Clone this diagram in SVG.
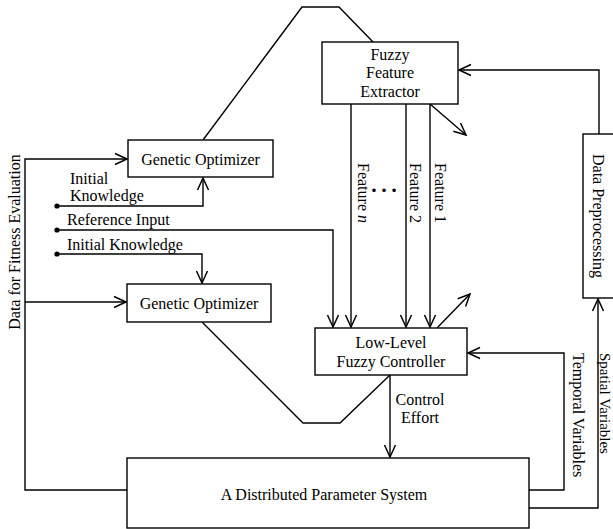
<svg xmlns="http://www.w3.org/2000/svg" width="613" height="529" viewBox="0 0 613 529">
<style>
text{font-family:"Liberation Serif","Times New Roman",serif;font-size:16px;fill:#000}
.m{text-anchor:middle}
.box{fill:#fff;stroke:#000;stroke-width:1.4}
.ln{fill:none;stroke:#000;stroke-width:1.4}
.ar{marker-end:url(#arr)}
</style>
<defs>
<marker id="arr" markerUnits="userSpaceOnUse" markerWidth="16" markerHeight="16" viewBox="-14 -8 16 16" refX="0" refY="0" orient="auto">
<path d="M-12,-5.5 L0,0 L-12,5.5" fill="none" stroke="#000" stroke-width="1.5"/>
</marker>
</defs>
<rect width="613" height="529" fill="#fff"/>
<g id="connectors">
<path class="ln" d="M203,140 L302,7 L339,7 L373,42"/>
<path class="ln ar" d="M127,490 L25,490 L25,159 L127,159"/>
<path class="ln ar" d="M25,302 L126,302"/>
<path class="ln ar" d="M57,206 L203,206 L203,178"/>
<path class="ln ar" d="M57,230 L333,230 L333,327"/>
<path class="ln ar" d="M57,254 L202,254 L202,283"/>
<path class="ln ar" d="M351,104 L351,327"/>
<path class="ln ar" d="M406,104 L406,327"/>
<path class="ln ar" d="M430,104 L430,327"/>
<path class="ln ar" d="M430,104 L466,135"/>
<path class="ln ar" d="M437,328 L470,294"/>
<path class="ln" d="M202,322 L303,423 L340,423 L390,375"/>
<path class="ln ar" d="M390,375 L390,457"/>
<path class="ln ar" d="M529,490 L564,490 L564,353 L468,353"/>
<path class="ln ar" d="M529,508 L598,508 L598,299"/>
<path class="ln ar" d="M599,134 L599,70 L459,70"/>
<circle cx="57" cy="206" r="2.6"/>
<circle cx="57" cy="230" r="2.6"/>
<circle cx="57" cy="254" r="2.6"/>
<text x="70" y="184">Initial</text>
<text x="70" y="201">Knowledge</text>
<text x="67" y="225">Reference Input</text>
<text x="67" y="250">Initial Knowledge</text>
<text class="m" x="420" y="405">Control</text>
<text class="m" x="420" y="423">Effort</text>
<text transform="translate(435,163) rotate(90)">Feature 1</text>
<text transform="translate(410,163) rotate(90)">Feature 2</text>
<text transform="translate(358,163) rotate(90)">Feature <tspan font-style="italic">n</tspan></text>
<text class="m" x="384" y="192" style="font-size:30px">…</text>
<text class="m" transform="translate(20,242) rotate(-90)">Data for Fitness Evaluation</text>
<text transform="translate(573,353) rotate(90)">Temporal Variables</text>
<text transform="translate(600,353) rotate(90)" style="font-size:15px">Spatial Variables</text>
</g>
<g id="genetic-optimizer-1">
<rect class="box" x="128" y="140" width="145" height="37"/>
<text class="m" x="200.5" y="165">Genetic Optimizer</text>
</g>
<g id="genetic-optimizer-2">
<rect class="box" x="127" y="284" width="144" height="38"/>
<text class="m" x="199" y="309">Genetic Optimizer</text>
</g>
<g id="fuzzy-feature-extractor">
<rect class="box" x="322" y="42" width="136" height="62"/>
<text class="m" x="390" y="60">Fuzzy</text>
<text class="m" x="390" y="78">Feature</text>
<text class="m" x="390" y="97">Extractor</text>
</g>
<g id="low-level-fuzzy-controller">
<rect class="box" x="315" y="328" width="152" height="47"/>
<text class="m" x="391" y="348">Low-Level</text>
<text class="m" x="391" y="367">Fuzzy Controller</text>
</g>
<g id="distributed-parameter-system">
<rect class="box" x="127" y="458" width="402" height="70"/>
<text class="m" x="324" y="500">A Distributed Parameter System</text>
</g>
<g id="data-preprocessing">
<rect class="box" x="583" y="134" width="32" height="164"/>
<text class="m" transform="translate(593,216) rotate(90)">Data Preprocessing</text>
</g>
</svg>
